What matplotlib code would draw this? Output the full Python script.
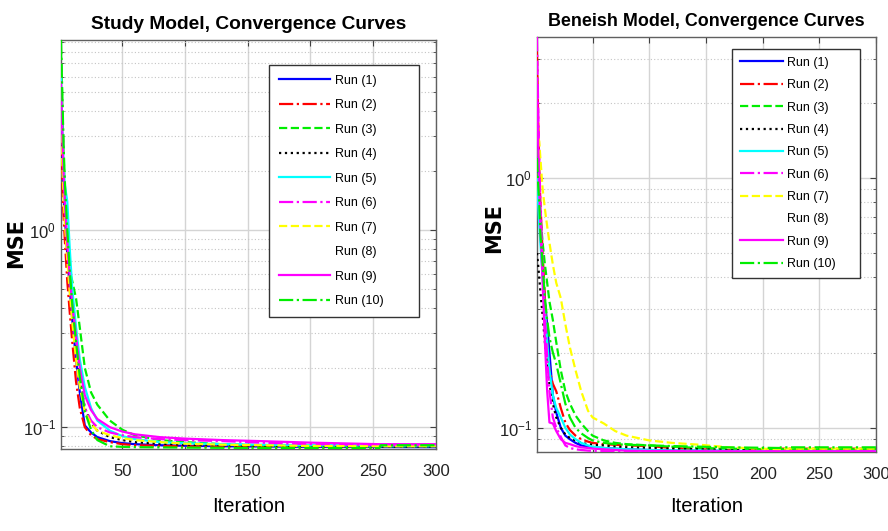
import numpy as np
import matplotlib
matplotlib.use("Agg")
from matplotlib import pyplot as plt
from matplotlib.ticker import LogLocator, NullFormatter, FixedLocator

# Fonts
plt.rcParams['font.family'] = ['Liberation Sans', 'DejaVu Sans']
plt.rcParams['mathtext.fontset'] = 'custom'
plt.rcParams['mathtext.rm'] = 'Liberation Sans'
plt.rcParams['mathtext.it'] = 'Liberation Sans'

labels = ['Run (%d)' % i for i in range(1, 11)]
colors = ['#0000ff', '#ff0000', '#00ee00', '#000000', '#00ffff',
          '#ff00ff', '#ffff00', '#ffffff', '#ff00ff', '#00ee00']
styles = ['-', '-.', '--', ':', '-', '-.', '--', ':', '-', '-.']

# Study model: iteration checkpoints and MSE per run
it_study = [1, 2, 3, 4, 6, 8, 10, 13, 16, 20, 25, 30, 40, 50, 60, 80, 100, 130, 160, 200, 255, 256, 300]
study = [
    [4.5, 2.6, 1.7, 1.2, 0.75, 0.5, 0.35, 0.22, 0.15, 0.102, 0.094, 0.089, 0.085, 0.083, 0.082, 0.081, 0.0805, 0.080, 0.0798, 0.0795, 0.0793, 0.0793, 0.0792],
    [3.0, 1.8, 1.2, 0.9, 0.55, 0.38, 0.27, 0.17, 0.125, 0.1, 0.091, 0.087, 0.084, 0.082, 0.081, 0.0805, 0.080, 0.0797, 0.0795, 0.0793, 0.079, 0.0805, 0.0805],
    [8.0, 4.5, 2.5, 1.6, 0.9, 0.62, 0.55, 0.45, 0.32, 0.2, 0.15, 0.13, 0.108, 0.097, 0.091, 0.086, 0.084, 0.082, 0.081, 0.0805, 0.080, 0.080, 0.080],
    [5.0, 3.0, 1.9, 1.3, 0.8, 0.55, 0.4, 0.26, 0.18, 0.125, 0.105, 0.096, 0.089, 0.086, 0.084, 0.0825, 0.0815, 0.081, 0.0805, 0.080, 0.0798, 0.0798, 0.0798],
    [6.0, 3.5, 2.2, 1.7, 1.4, 0.8, 0.5, 0.32, 0.22, 0.16, 0.125, 0.108, 0.096, 0.09, 0.087, 0.084, 0.083, 0.082, 0.0815, 0.081, 0.0808, 0.0808, 0.0808],
    [7.0, 4.0, 2.4, 1.5, 0.85, 0.55, 0.38, 0.25, 0.17, 0.125, 0.108, 0.1, 0.094, 0.091, 0.089, 0.087, 0.086, 0.085, 0.0835, 0.082, 0.081, 0.081, 0.081],
    [3.5, 2.2, 1.5, 1.1, 0.7, 0.48, 0.34, 0.22, 0.16, 0.12, 0.104, 0.096, 0.091, 0.088, 0.086, 0.084, 0.0825, 0.0815, 0.081, 0.0803, 0.080, 0.080, 0.080],
    [2.5, 1.5, 1.0, 0.75, 0.5, 0.35, 0.25, 0.17, 0.13, 0.105, 0.095, 0.09, 0.086, 0.084, 0.083, 0.082, 0.081, 0.0805, 0.080, 0.0798, 0.0796, 0.0796, 0.0796],
    [5.5, 3.2, 2.0, 1.4, 0.85, 0.58, 0.42, 0.29, 0.2, 0.145, 0.122, 0.11, 0.1, 0.095, 0.092, 0.089, 0.0875, 0.086, 0.085, 0.0835, 0.082, 0.082, 0.082],
    [9.2, 5.0, 2.8, 1.8, 1.0, 0.62, 0.42, 0.27, 0.18, 0.12, 0.097, 0.086, 0.08, 0.0795, 0.0792, 0.079, 0.0788, 0.0786, 0.0785, 0.0784, 0.0783, 0.081, 0.081],
]

# Beneish model
it_ben = [1, 2, 3, 4, 6, 8, 10, 12, 15, 18, 22, 26, 30, 35, 40, 46, 50, 60, 70, 80, 100, 120, 145, 170, 215, 216, 300]
beneish = [
    [1.5, 1.0, 0.75, 0.6, 0.42, 0.32, 0.26, 0.2, 0.135, 0.115, 0.1, 0.093, 0.09, 0.087, 0.085, 0.084, 0.0835, 0.083, 0.0825, 0.082, 0.0815, 0.081, 0.081, 0.0808, 0.0805, 0.0805, 0.0805],
    [3.2, 1.8, 1.1, 0.8, 0.5, 0.33, 0.22, 0.17, 0.15, 0.14, 0.12, 0.105, 0.098, 0.093, 0.09, 0.088, 0.087, 0.086, 0.0855, 0.085, 0.0845, 0.083, 0.082, 0.0815, 0.081, 0.0825, 0.0825],
    [1.3, 1.0, 0.85, 0.7, 0.55, 0.45, 0.38, 0.32, 0.27, 0.22, 0.17, 0.14, 0.125, 0.112, 0.104, 0.097, 0.093, 0.089, 0.087, 0.086, 0.085, 0.084, 0.083, 0.0825, 0.082, 0.082, 0.082],
    [0.5, 0.45, 0.4, 0.35, 0.28, 0.22, 0.18, 0.15, 0.125, 0.11, 0.1, 0.094, 0.091, 0.089, 0.087, 0.086, 0.0855, 0.085, 0.084, 0.0835, 0.083, 0.0825, 0.082, 0.0815, 0.081, 0.081, 0.081],
    [1.0, 0.8, 0.65, 0.55, 0.4, 0.3, 0.22, 0.17, 0.135, 0.12, 0.11, 0.1, 0.094, 0.09, 0.087, 0.085, 0.084, 0.083, 0.0825, 0.082, 0.0815, 0.081, 0.081, 0.0808, 0.0806, 0.0806, 0.0806],
    [3.66, 2.0, 1.2, 0.8, 0.45, 0.28, 0.19, 0.14, 0.11, 0.1, 0.092, 0.085, 0.083, 0.082, 0.0815, 0.081, 0.0808, 0.0806, 0.0805, 0.0804, 0.0804, 0.0803, 0.0803, 0.0803, 0.0803, 0.0803, 0.0803],
    [1.6, 1.45, 1.4, 1.2, 0.9, 0.75, 0.64, 0.55, 0.45, 0.38, 0.33, 0.26, 0.21, 0.17, 0.14, 0.117, 0.11, 0.104, 0.097, 0.093, 0.089, 0.087, 0.0855, 0.0835, 0.082, 0.0825, 0.0825],
    [0.9, 0.7, 0.55, 0.45, 0.33, 0.25, 0.19, 0.15, 0.12, 0.105, 0.095, 0.09, 0.087, 0.085, 0.084, 0.083, 0.0825, 0.082, 0.0815, 0.081, 0.0808, 0.0806, 0.0805, 0.0805, 0.0805, 0.0805, 0.0805],
    [2.5, 1.4, 0.9, 0.65, 0.38, 0.22, 0.14, 0.105, 0.104, 0.097, 0.09, 0.087, 0.086, 0.0845, 0.0835, 0.083, 0.0825, 0.082, 0.0815, 0.081, 0.0808, 0.0806, 0.0805, 0.0805, 0.0805, 0.0805, 0.0805],
    [1.2, 0.95, 0.8, 0.6, 0.45, 0.33, 0.27, 0.23, 0.2, 0.18, 0.15, 0.125, 0.11, 0.1, 0.095, 0.091, 0.089, 0.087, 0.086, 0.0855, 0.085, 0.0845, 0.084, 0.0835, 0.083, 0.0835, 0.0835],
]

panels = [
    dict(title='Study Model, Convergence Curves', tsize=13.8, x=it_study, runs=study,
         ylim=(0.0775, 9.2), pos=[0.0687, 0.1544, 0.422, 0.7703],
         leg=(0.555, 0.94, 0.40), spacing=1.0, hlen=4.1, bpad=0.8,
         ylab=(-0.093, 0.504), xlab=(0.5, -0.117)),
    dict(title='Beneish Model, Convergence Curves', tsize=12.9, x=it_ben, runs=beneish,
         ylim=(0.080, 3.66), pos=[0.6047, 0.1488, 0.3818, 0.7815],
         leg=(0.575, 0.972, 0.378), spacing=0.83, hlen=3.4, bpad=0.65,
         ylab=(-0.097, 0.54), xlab=(0.5, -0.108)),
]

fig = plt.figure(figsize=(8.88, 5.31), dpi=100)

for p in panels:
    ax = fig.add_axes(p['pos'])
    # run 8 is white, draw it first so the others sit on top
    order = [7] + [i for i in range(10) if i != 7]
    lines = {}
    for i in order:
        ln, = ax.semilogy(p['x'], p['runs'][i], color=colors[i], linestyle=styles[i],
                          linewidth=1.6, label=labels[i], zorder=2 if i == 7 else 3)
        lines[i] = ln
    ax.set_xlim(1, 300)
    ax.set_ylim(*p['ylim'])
    ax.xaxis.set_major_locator(FixedLocator([50, 100, 150, 200, 250, 300]))
    ax.yaxis.set_major_locator(LogLocator(base=10))
    ax.yaxis.set_minor_locator(LogLocator(base=10, subs=np.arange(2, 10)))
    ax.yaxis.set_minor_formatter(NullFormatter())
    ax.grid(True, which='major', color='#d4d4d4', linewidth=1.0, linestyle='-')
    ax.grid(True, which='minor', color='#c4c4c4', linewidth=0.8, linestyle=(0, (1, 2)))
    ax.set_axisbelow(True)
    ax.tick_params(which='both', direction='in', top=True, right=True, colors='#404040',
                   labelcolor='#222222', labelsize=12)
    ax.tick_params(axis='x', which='major', pad=11)
    ax.tick_params(which='major', length=4)
    ax.tick_params(which='minor', length=2.5)
    for s in ax.spines.values():
        s.set_color('#606060')
        s.set_linewidth(1.0)
    ax.set_title(p['title'], fontsize=p['tsize'], fontweight='bold', pad=8)
    ax.set_xlabel('Iteration', fontsize=14.5)
    ax.xaxis.set_label_coords(*p['xlab'])
    ax.set_ylabel('MSE', fontsize=15, fontweight='bold', family='DejaVu Sans')
    ax.yaxis.set_label_coords(*p['ylab'])
    handles = [lines[i] for i in range(10)]
    x0, y0, w = p['leg']
    leg = ax.legend(handles, labels, loc='upper left', bbox_to_anchor=(x0, y0, w, 0),
                    mode='expand', fontsize=9, frameon=True, fancybox=False,
                    framealpha=1.0, edgecolor='#333333', handlelength=p['hlen'],
                    handletextpad=0.35, labelspacing=p['spacing'],
                    borderpad=p['bpad'], borderaxespad=0)
    leg.get_frame().set_linewidth(1.0)

fig.savefig('out.png', dpi=100)
